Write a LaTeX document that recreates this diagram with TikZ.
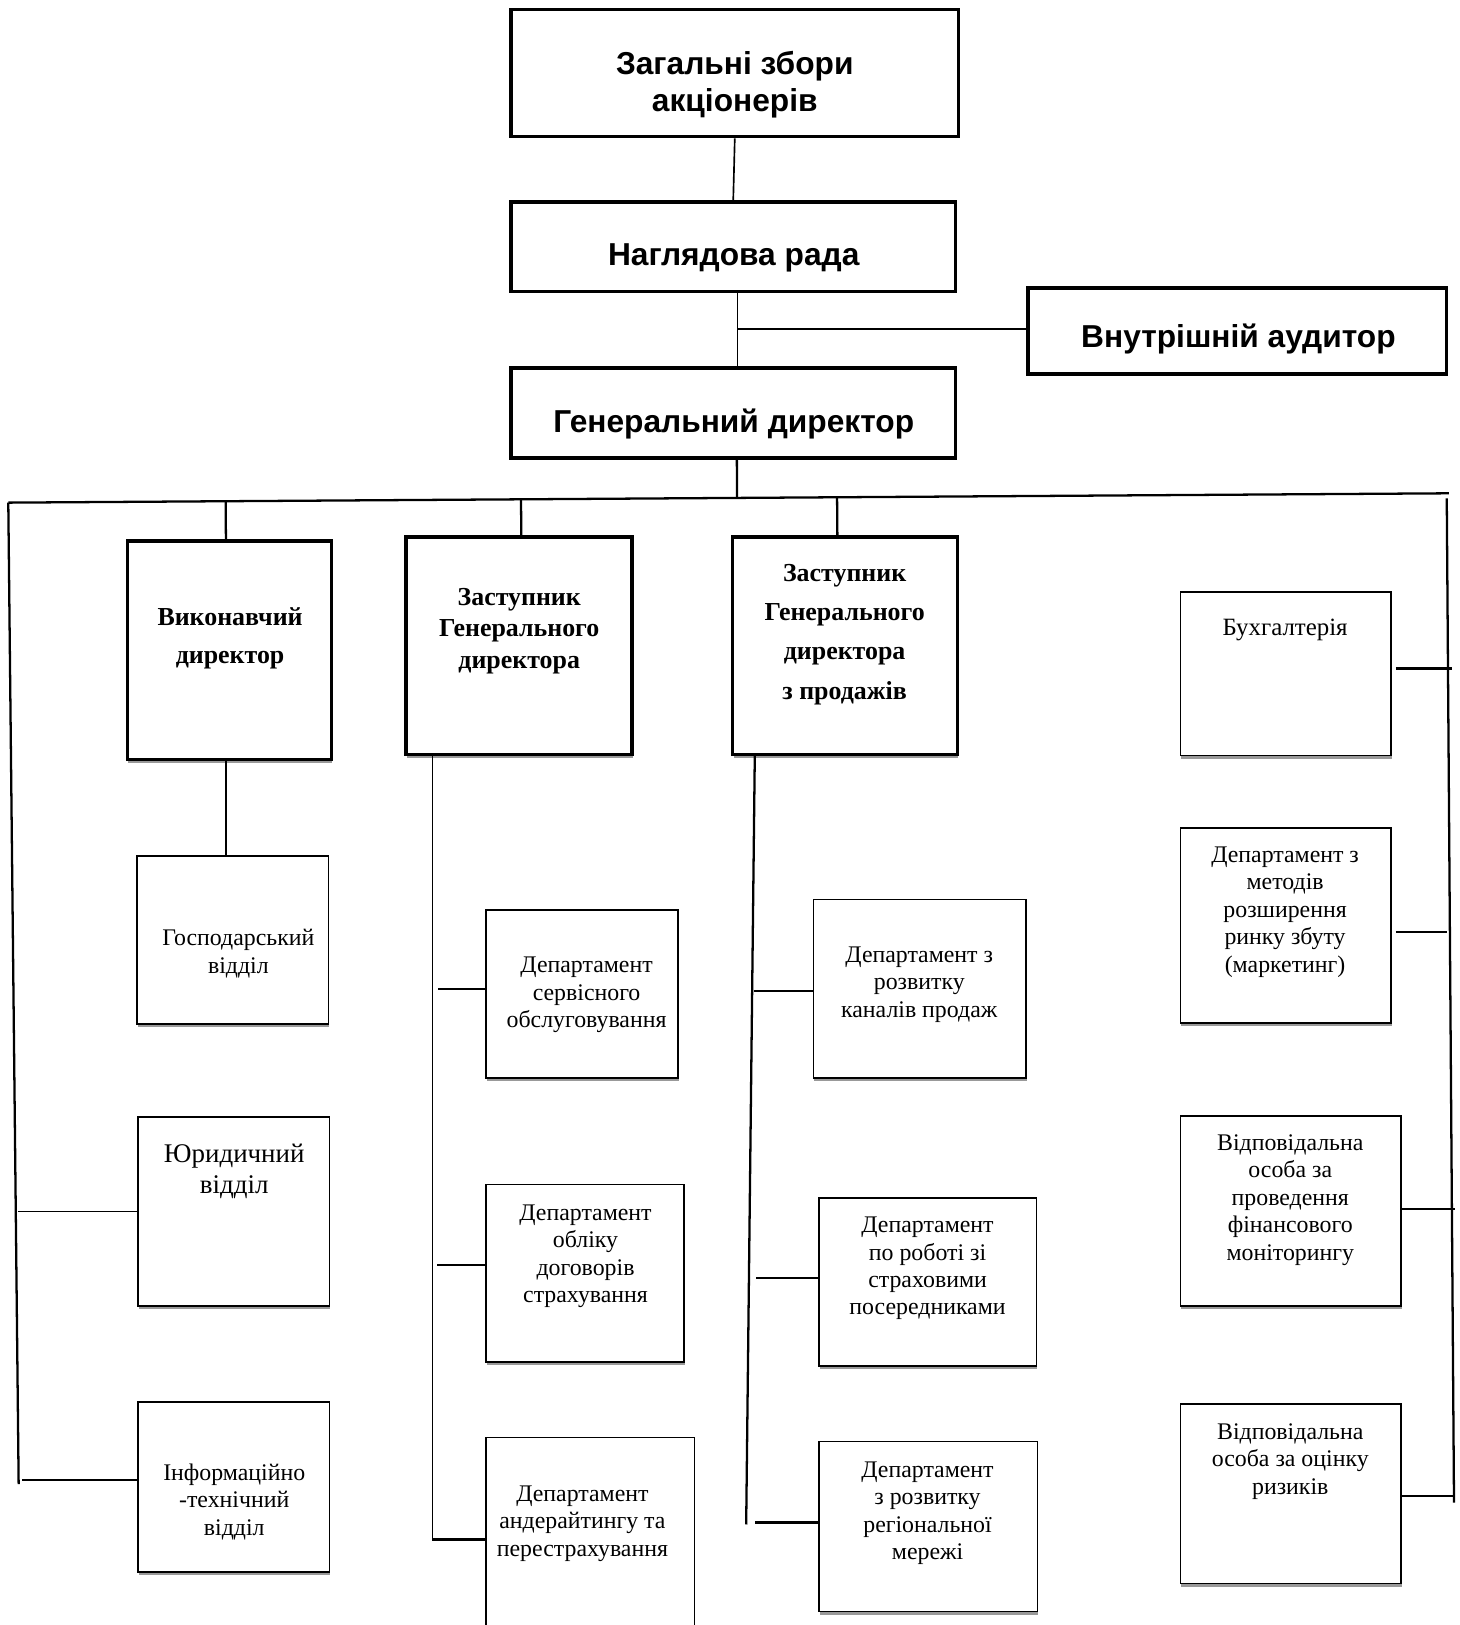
\documentclass[tikz,border=0pt]{standalone}
\usepackage{fontspec}
\setmainfont{Liberation Serif}
\setsansfont{Liberation Sans}
\usetikzlibrary{fit,calc,shadows}
\tikzset{
  topbox/.style={draw, line width=1.6pt, inner sep=0pt, fill=white},
  dirbox/.style={draw, line width=1.7pt, inner sep=0pt, fill=white,
    drop shadow={shadow xshift=0.4pt, shadow yshift=-1.6pt, fill=black!40, opacity=1}},
  unitbox/.style={draw, line width=0.8pt, inner sep=0pt, fill=white,
    drop shadow={shadow xshift=0.4pt, shadow yshift=-1.6pt, fill=black!40, opacity=1}},
  toptxt/.style={font=\sffamily\bfseries\fontsize{15.3}{18}\selectfont, align=center, inner sep=0pt},
  dirtxt/.style={font=\bfseries\fontsize{12.5}{18.5}\selectfont, align=center, inner sep=0pt},
  unittxt/.style={font=\fontsize{11.5}{13.25}\selectfont, align=center, inner sep=0pt},
  link/.style={line width=0.8pt},
  buslink/.style={line width=1.1pt},
}
\begin{document}
\begin{tikzpicture}[x=0.5pt,y=-0.5pt]
\useasboundingbox (0,0) rectangle (1408,1568);

% ---- top level ----
\node[topbox, fit={(493,9) (925,132)}] (gsm) {};
\node[toptxt] (gsmt) at (709,82) {Загальні збори\\акціонерів};
\node[topbox, fit={(493,195) (922,281)}] (nr) {};
\node[toptxt] (nrt) at (708,249) {Наглядова рада};
\node[topbox, fit={(992,278) (1396,361)}] (aud) {};
\node[toptxt] (audt) at (1195,327) {Внутрішній аудитор};
\node[topbox, fit={(493,355) (922,442)}] (gd) {};
\node[toptxt] (gdt) at (708,409) {Генеральний директор};

\draw[link] (gsm.south) -- (nr.north);
\coordinate (nrd) at ([xshift=2pt]nr.south);
\draw[link] (nrd) -- ([xshift=2pt]gd.north);
\draw[link] ([yshift=1pt]aud.west) -- ([yshift=1pt]aud.west -| nrd);

% ---- bus ----
\coordinate (busL) at (8,485);
\coordinate (busR) at (1398,476);
\coordinate (lvb) at (18,1432);
\coordinate (rvt) at (1396,481);
\coordinate (rvb) at (1403,1450);
\draw[buslink] (busL) -- (busR);
\draw[buslink] (busL) -- (lvb);
\draw[buslink] (rvt) -- (rvb);
\coordinate (gdb) at ([xshift=1.75pt]gd.south);
\draw[buslink] (gdb) -- ($(busL)!(gdb)!(busR)$);

% ---- directors ----
\node[dirbox, fit={(123,522) (320,733)}] (vd) {};
\node[dirtxt] (vdt) at (222,616) {Виконавчий\\директор};
\node[dirbox, fit={(392,518) (610,728)}] (zgd) {};
\node[dirtxt, font=\bfseries\fontsize{12.5}{15}\selectfont] (zgdt) at (501,609) {Заступник\\Генерального\\директора};
\node[dirbox, fit={(707,518) (924,728)}] (zgp) {};
\node[dirtxt, font=\bfseries\fontsize{12.5}{19}\selectfont] (zgpt) at (815,612) {Заступник\\Генерального\\директора\\з продажів};

\coordinate (vdtop) at ([xshift=-1.75pt]vd.north);
\coordinate (zgdtop) at ([xshift=1pt]zgd.north);
\coordinate (zgptop) at ([xshift=-3.75pt]zgp.north);
\draw[buslink] (vdtop) -- ($(busL)!(vdtop)!(busR)$);
\draw[buslink] (zgdtop) -- ($(busL)!(zgdtop)!(busR)$);
\draw[buslink] (zgptop) -- ($(busL)!(zgptop)!(busR)$);

% ---- column 1 ----
\node[unitbox, fit={(132,826) (317,988)}] (gosp) {};
\node[unittxt] (gospt) at (230,920) {Господарський\\відділ};
\node[unitbox, fit={(133,1078) (318,1260)}] (yur) {};
\node[unittxt, font=\fontsize{13}{15}\selectfont] (yurt) at (226,1130) {Юридичний\\відділ};
\node[unitbox, fit={(133,1353) (318,1517)}] (it) {};
\node[unittxt] (itt) at (226,1449) {Інформаційно\\-технічний\\відділ};

\coordinate (vdb) at ([xshift=-1.75pt]vd.south);
\draw[link] (vdb) -- (vdb |- gosp.north);
\draw[link] (yur.west) -- ++(-115,0);
\draw[link] ([yshift=3.5pt]it.west) -- ++(-111,0);

% ---- column 2 ----
\node[unitbox, fit={(469,878) (654,1040)}] (serv) {};
\node[unittxt] (servt) at (566,960) {Департамент\\сервісного\\обслуговування};
\node[unitbox, fit={(469,1143) (660,1314)}] (obl) {};
\node[unittxt] (oblt) at (565,1212) {Департамент\\обліку\\договорів\\страхування};
\node[unitbox, fit={(469,1387) (670,1600)}] (andr) {};
\node[unittxt] (andrt) at (562,1470) {Департамент\\андерайтингу та\\перестрахування};

\coordinate (c2t) at ([xshift=13.5pt]zgd.south west);
\coordinate (andrj) at ([yshift=4pt]andr.west);
\coordinate (c2b) at (c2t |- andrj);
\draw[link] (c2t) -- (c2b);
\draw[link] ([yshift=2.5pt]serv.west) -- ++(-46,0);
\draw[link] ([yshift=4pt]obl.west) -- ++(-47,0);
\draw[buslink] (andrj) -- (c2b);

% ---- column 3 ----
\node[unitbox, fit={(785,868) (990,1040)}] (kan) {};
\node[unittxt] (kant) at (887,950) {Департамент з\\розвитку\\каналів продаж};
\node[unitbox, fit={(790,1156) (1000,1318)}] (pos) {};
\node[unittxt] (post) at (895,1224) {Департамент\\по роботі зі\\страховими\\посередниками};
\node[unitbox, fit={(790,1391) (1001,1555)}] (reg) {};
\node[unittxt] (regt) at (895,1460) {Департамент\\з розвитку\\регіональної\\мережі};

\coordinate (c3t) at ([xshift=11.5pt]zgp.south west);
\coordinate (c3b) at (720,1471);
\draw[buslink] (c3t) -- (c3b);
\draw[buslink] ([yshift=-1pt]kan.west) -- ++(-57,0);
\draw[buslink] ([yshift=2pt]pos.west) -- ++(-60,0);
\draw[buslink] ([yshift=2pt]reg.west) -- ++(-61,0);

% ---- right column ----
\node[unitbox, fit={(1139,571) (1342,729)}] (buh) {};
\node[unittxt, font=\fontsize{12}{14}\selectfont] (buht) at (1240,608) {Бухгалтерія};
\node[unitbox, fit={(1139,799) (1342,987)}] (mar) {};
\node[unittxt] (mart) at (1240,880) {Департамент з\\методів\\розширення\\ринку збуту\\(маркетинг)};
\node[unitbox, fit={(1139,1077) (1352,1260)}] (fin) {};
\node[unittxt] (fint) at (1245,1158) {Відповідальна\\особа за\\проведення\\фінансового\\моніторингу};
\node[unitbox, fit={(1139,1355) (1352,1528)}] (riz) {};
\node[unittxt] (rizt) at (1245,1410) {Відповідальна\\особа за оцінку\\ризиків};

\draw[buslink] ([yshift=2.5pt,xshift=2pt]buh.east) -- ++(54,0);
\draw[buslink] ([yshift=-3pt,xshift=2pt]mar.east) -- ++(49,0);
\draw[buslink] ([yshift=1pt]fin.east) -- ++(51,0);
\draw[buslink] ([yshift=-1pt]riz.east) -- ++(51,0);
\end{tikzpicture}
\end{document}
